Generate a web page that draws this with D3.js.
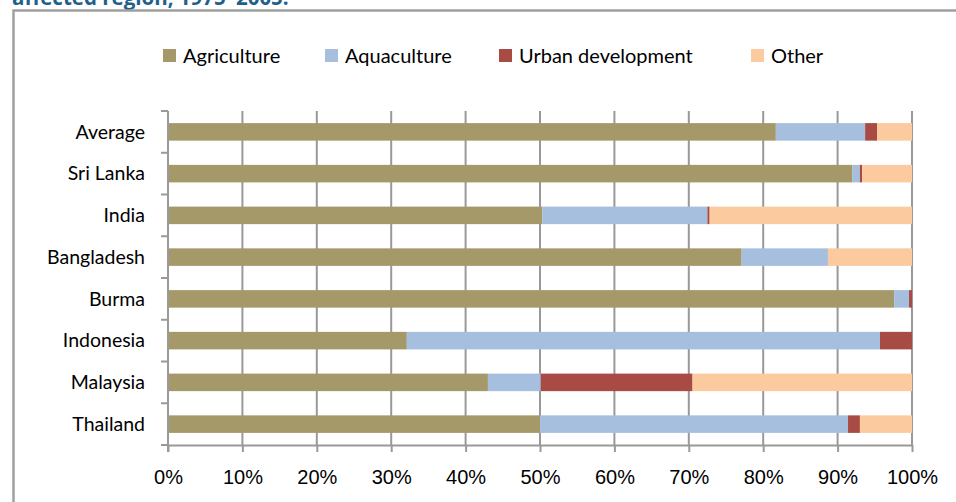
<!DOCTYPE html>
<html>
<head>
<meta charset="utf-8">
<script src="https://cdn.jsdelivr.net/npm/d3@7"></script>
<style>
  body { margin: 0; background: #fff; }
  svg { display: block; font-family: Lato, "Open Sans", sans-serif; }
</style>
</head>
<body>
<svg id="chart" width="956" height="502"></svg>
<script>
// data (percent of mangrove area lost, by cause)
const categories = ['Average', 'Sri Lanka', 'India', 'Bangladesh', 'Burma', 'Indonesia', 'Malaysia', 'Thailand'];
const seriesNames = ['Agriculture', 'Aquaculture', 'Urban development', 'Other'];
const agriculture = [81.7, 92.0, 50.3, 77.1, 97.6, 32.1, 43.0, 50.0];
const aquaculture = [12.0, 1.0, 22.2, 11.6, 2.0, 63.6, 7.1, 41.4];
const urban = [1.6, 0.3, 0.3, 0.0, 0.4, 4.3, 20.4, 1.6];
const other = [4.7, 6.7, 27.2, 11.3, 0.0, 0.0, 29.5, 7.0];
const xTicks = [0, 10, 20, 30, 40, 50, 60, 70, 80, 90, 100];

const colors = ['#a5996a', '#a6bfde', '#a84b45', '#fbca9f'];

const svg = d3.select('#chart');

// title, cut off at the top of the picture
svg.append('text')
    .attr('x', 12)
    .attr('y', 5)
    .attr('fill', '#1f5f8c')
    .style('font-family', '"Open Sans", sans-serif')
    .style('font-weight', 'bold')
    .style('font-size', '20.5px')
    .text('affected region, 1975–2005:');

// chart frame
svg.append('rect')
    .attr('x', 13.5)
    .attr('y', 10.5)
    .attr('width', 1000)
    .attr('height', 600)
    .attr('fill', 'none')
    .attr('stroke', '#a0a0a0')
    .attr('stroke-width', 2.5);

const margin = { left: 168, right: 912, top: 111, bottom: 445 };

const x = d3.scaleLinear().domain([0, 100]).range([margin.left, margin.right]);
const y = d3.scaleBand().domain(categories).range([margin.top, margin.bottom]).paddingInner(0.58).paddingOuter(0.29);

const rows = categories.map((c, i) => ({
    cat: c,
    Agriculture: agriculture[i],
    Aquaculture: aquaculture[i],
    'Urban development': urban[i],
    Other: other[i],
}));
const stacked = d3.stack().keys(seriesNames)(rows);

// vertical gridlines
svg.append('g')
    .selectAll('line')
    .data(xTicks.slice(1))
    .enter()
    .append('line')
    .attr('x1', d => x(d))
    .attr('x2', d => x(d))
    .attr('y1', margin.top)
    .attr('y2', margin.bottom)
    .attr('stroke', '#999')
    .attr('stroke-width', 2);

// bars
svg.append('g')
    .selectAll('g')
    .data(stacked)
    .enter()
    .append('g')
    .attr('fill', (d, i) => colors[i])
    .selectAll('rect')
    .data(d => d)
    .enter()
    .append('rect')
    .attr('x', d => x(d[0]))
    .attr('width', d => x(d[1]) - x(d[0]))
    .attr('y', d => y(d.data.cat))
    .attr('height', y.bandwidth());

// x axis
const xAxis = svg.append('g')
    .attr('transform', `translate(0,${margin.bottom})`)
    .call(d3.axisBottom(x).tickValues(xTicks).tickFormat(d => d + '%').tickSize(7).tickSizeOuter(0).tickPadding(18));
xAxis.select('.domain').attr('stroke', '#999').attr('stroke-width', 2);
xAxis.selectAll('.tick line').attr('stroke', '#999').attr('stroke-width', 2);
xAxis.selectAll('text').style('font-size', '20px').attr('fill', '#000');

// y axis: ticks sit between categories
const yAxis = svg.append('g').attr('transform', `translate(${margin.left},0)`);
yAxis.append('line')
    .attr('y1', margin.top)
    .attr('y2', margin.bottom + 7)
    .attr('stroke', '#999')
    .attr('stroke-width', 2);
yAxis.selectAll('line.tk')
    .data(d3.range(categories.length + 1))
    .enter()
    .append('line')
    .attr('class', 'tk')
    .attr('x1', -7)
    .attr('x2', 0)
    .attr('y1', i => margin.top + i * (margin.bottom - margin.top) / categories.length)
    .attr('y2', i => margin.top + i * (margin.bottom - margin.top) / categories.length)
    .attr('stroke', '#999')
    .attr('stroke-width', 2);
yAxis.selectAll('text')
    .data(categories)
    .enter()
    .append('text')
    .attr('x', -23)
    .attr('y', d => y(d) + y.bandwidth() / 2)
    .attr('dy', '0.35em')
    .attr('text-anchor', 'end')
    .style('font-size', '19.5px')
    .text(d => d);

// legend
const legendX = [163, 325, 499, 751];
const legend = svg.append('g')
    .selectAll('g')
    .data(seriesNames)
    .enter()
    .append('g')
    .attr('transform', (d, i) => `translate(${legendX[i]},49)`);
legend.append('rect')
    .attr('width', 13)
    .attr('height', 13)
    .attr('fill', (d, i) => colors[i]);
legend.append('text')
    .attr('x', 20)
    .attr('y', 7)
    .attr('dy', '0.35em')
    .style('font-size', '20px')
    .text(d => d);
</script>
</body>
</html>
